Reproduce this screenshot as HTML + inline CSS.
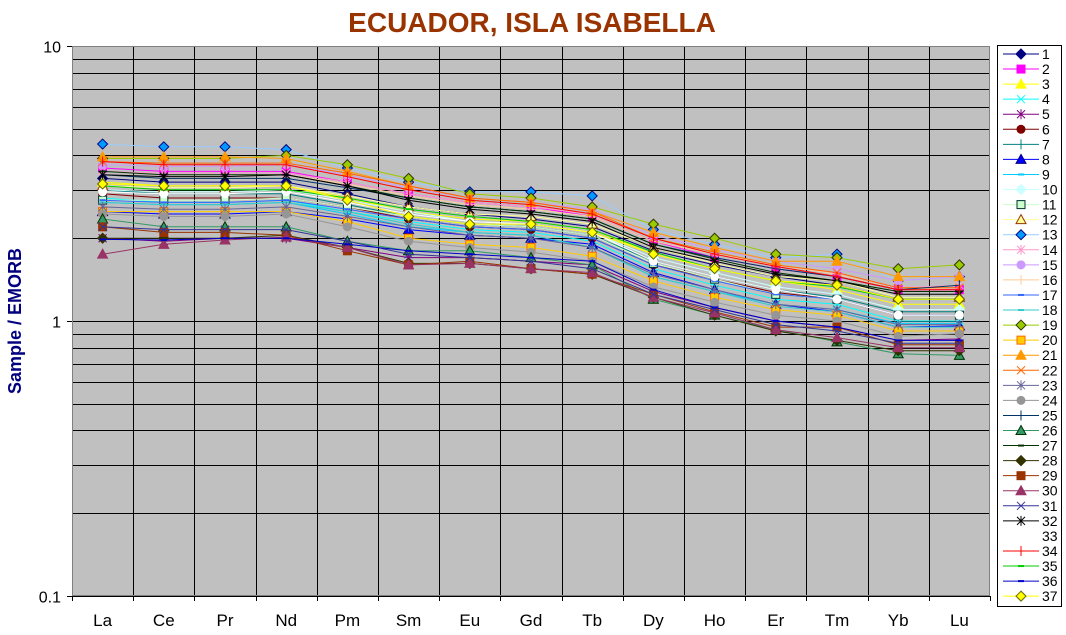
<!DOCTYPE html>
<html><head><meta charset="utf-8"><style>
html,body{margin:0;padding:0;background:#fff;}
svg{display:block;font-family:"Liberation Sans",Arial,sans-serif;}
</style></head><body>
<svg id="chart" width="1066" height="635" viewBox="0 0 1066 635">
<text x="532" y="32" text-anchor="middle" font-size="28" font-weight="bold" fill="#993300">ECUADOR, ISLA ISABELLA</text>
<text transform="translate(21,321) rotate(-90)" text-anchor="middle" font-size="18" font-weight="bold" fill="#000080">Sample / EMORB</text>
<g id="plot"></g>
<g id="legend"></g>
</svg>
<script>
const categories=["La","Ce","Pr","Nd","Pm","Sm","Eu","Gd","Tb","Dy","Ho","Er","Tm","Yb","Lu"];
const yTicks=[0.1,1,10];
const yTickLabels=["0.1","1","10"];
const s1=[3.3,3.2,3.2,3.2,2.9,2.6,2.45,2.35,2.2,1.8,1.6,1.45,1.35,1.2,1.2];
const s2=[3.6,3.5,3.5,3.5,3.2,2.9,2.7,2.6,2.4,1.95,1.7,1.55,1.45,1.3,1.3];
const s3=[3.2,3.1,3.1,3.1,2.8,2.5,2.35,2.3,2.15,1.75,1.55,1.4,1.3,1.15,1.15];
const s4=[2.8,2.7,2.7,2.75,2.5,2.3,2.15,2.1,1.95,1.55,1.35,1.2,1.15,1.0,1.0];
const s5=[2.0,1.95,2.0,2.0,1.85,1.7,1.7,1.65,1.6,1.28,1.12,1.0,0.95,0.85,0.86];
const s6=[2.9,2.8,2.8,2.8,2.6,2.35,2.2,2.15,2.0,1.6,1.42,1.27,1.2,1.05,1.05];
const s7=[3.0,2.9,2.9,2.9,2.65,2.4,2.25,2.2,2.05,1.65,1.45,1.3,1.22,1.08,1.08];
const s8=[2.5,2.45,2.45,2.5,2.35,2.15,2.05,2.0,1.9,1.5,1.3,1.15,1.08,0.95,0.96];
const s9=[2.7,2.65,2.65,2.7,2.45,2.2,2.1,2.05,1.85,1.45,1.28,1.15,1.1,0.98,0.98];
const s10=[3.0,2.95,2.95,3.0,2.75,2.5,2.3,2.25,2.1,1.7,1.5,1.33,1.25,1.1,1.1];
const s11=[2.75,2.75,2.75,2.8,2.6,2.4,2.25,2.2,2.05,1.62,1.42,1.25,1.2,1.05,1.05];
const s12=[3.1,3.05,3.05,3.1,2.85,2.6,2.45,2.4,2.25,1.85,1.62,1.45,1.4,1.22,1.22];
const s13=[4.4,4.3,4.3,4.2,3.6,3.2,2.95,2.95,2.85,2.15,1.9,1.7,1.75,1.4,1.45];
const s14=[3.5,3.45,3.45,3.45,3.2,2.9,2.7,2.6,2.45,2.0,1.75,1.6,1.5,1.32,1.35];
const s15=[3.7,3.65,3.65,3.7,3.4,3.05,2.8,2.7,2.55,2.05,1.82,1.65,1.55,1.4,1.45];
const s16=[3.4,3.35,3.35,3.4,3.15,2.85,2.65,2.55,2.4,1.95,1.75,1.6,1.48,1.3,1.32];
const s17=[2.75,2.7,2.7,2.75,2.55,2.35,2.2,2.15,2.0,1.6,1.4,1.25,1.2,1.05,1.05];
const s18=[2.7,2.65,2.65,2.7,2.5,2.25,2.1,2.05,1.85,1.45,1.28,1.13,1.08,0.95,0.95];
const s19=[3.9,3.9,3.9,4.0,3.7,3.3,2.9,2.8,2.6,2.25,2.0,1.75,1.7,1.55,1.6];
const s20=[2.5,2.5,2.5,2.5,2.3,2.0,1.9,1.85,1.72,1.4,1.22,1.1,1.05,0.92,0.92];
const s21=[3.95,3.95,3.95,3.9,3.5,3.1,2.8,2.7,2.5,2.1,1.85,1.65,1.65,1.45,1.45];
const s22=[3.8,3.75,3.75,3.75,3.45,3.1,2.8,2.7,2.5,2.0,1.78,1.6,1.5,1.32,1.32];
const s23=[2.6,2.55,2.55,2.6,2.4,2.2,2.05,2.0,1.85,1.48,1.3,1.15,1.1,0.97,0.97];
const s24=[2.45,2.4,2.4,2.45,2.2,1.95,1.85,1.78,1.65,1.33,1.17,1.05,1.0,0.88,0.9];
const s25=[3.4,3.3,3.3,3.3,3.05,2.8,2.6,2.5,2.35,1.9,1.7,1.55,1.45,1.3,1.35];
const s26=[2.35,2.2,2.2,2.2,1.95,1.8,1.8,1.7,1.6,1.2,1.05,0.93,0.84,0.76,0.75];
const s27=[3.5,3.4,3.4,3.4,3.1,2.8,2.6,2.5,2.35,1.9,1.68,1.5,1.4,1.28,1.28];
const s28=[2.0,2.0,2.0,2.05,1.85,1.62,1.62,1.55,1.48,1.22,1.05,0.92,0.85,0.78,0.78];
const s29=[2.2,2.1,2.1,2.05,1.8,1.6,1.65,1.55,1.48,1.25,1.08,0.95,0.95,0.82,0.82];
const s30=[1.75,1.9,1.97,2.02,1.85,1.6,1.62,1.55,1.5,1.22,1.07,0.93,0.87,0.8,0.8];
const s31=[2.2,2.15,2.15,2.15,1.95,1.75,1.7,1.65,1.55,1.25,1.1,0.97,0.92,0.83,0.83];
const s32=[3.4,3.35,3.35,3.4,3.1,2.75,2.55,2.45,2.3,1.85,1.65,1.48,1.4,1.25,1.25];
const s33=[2.95,2.9,2.9,2.95,2.7,2.45,2.3,2.25,2.1,1.65,1.45,1.3,1.2,1.05,1.05];
const s34=[3.8,3.7,3.7,3.7,3.35,3.0,2.75,2.65,2.45,2.0,1.75,1.58,1.45,1.3,1.3];
const s35=[3.1,3.0,3.0,3.0,2.8,2.55,2.4,2.3,2.15,1.78,1.55,1.4,1.33,1.2,1.2];
const s36=[1.98,1.97,2.0,2.0,1.9,1.8,1.75,1.7,1.65,1.3,1.12,1.0,0.95,0.85,0.85];
const s37=[3.15,3.1,3.1,3.1,2.75,2.4,2.25,2.25,2.1,1.75,1.55,1.4,1.35,1.2,1.2];
const seriesValues=[s1,s2,s3,s4,s5,s6,s7,s8,s9,s10,s11,s12,s13,s14,s15,s16,s17,s18,s19,s20,s21,s22,s23,s24,s25,s26,s27,s28,s29,s30,s31,s32,s33,s34,s35,s36,s37];
const seriesNames=["1","2","3","4","5","6","7","8","9","10","11","12","13","14","15","16","17","18","19","20","21","22","23","24","25","26","27","28","29","30","31","32","33","34","35","36","37"];
// style: [line color, marker, fill, stroke]
const styles=[
["#000080","diamond","#000080","#000080"],["#ff00ff","square","#ff00ff","#ff00ff"],["#ffff00","triangle","#ffff00","#ffff00"],
["#00ffff","x","none","#00ffff"],["#800080","star","none","#800080"],["#800000","circle","#800000","#800000"],
["#008080","plus","none","#008080"],["#0000ff","triangle","#0000ff","#000080"],["#00ccff","dash","none","#00ccff"],
["#ccffff","diamond","#ccffff","#ccffff"],["#ccffcc","square","#ccffcc","#003333"],["#ffff99","triangle","#ffff99","#993300"],
["#99ccff","diamond","#0099ff","#000080"],["#ff99cc","star","none","#ff99cc"],["#cc99ff","circle","#cc99ff","#cc99ff"],
["#ffcc99","plus","none","#ffcc99"],["#3366ff","dash","none","#3366ff"],["#33cccc","dash","none","#33cccc"],
["#99cc00","diamond","#99cc00","#333300"],["#ffcc00","square","#ffcc00","#ff6600"],["#ff9900","triangle","#ff9900","#ff9900"],
["#ff6600","x","none","#ff6600"],["#666699","star","none","#666699"],["#969696","circle","#969696","#969696"],
["#003366","plus","none","#003366"],["#339966","triangle","#339966","#003300"],["#003300","dash","none","#003300"],
["#333300","diamond","#333300","#333300"],["#993300","square","#993300","#993300"],["#993366","triangle","#993366","#993366"],
["#333399","x","none","#333399"],["#000000","star","none","#000000"],["#ffffff","circle","#ffffff","#ffffff"],
["#ff0000","plus","none","#ff0000"],["#00cc00","dash","none","#00cc00"],["#0000cc","dash","none","#0000cc"],
["#ffff00","diamond","#ffff00","#666600"]];
const NS="http://www.w3.org/2000/svg";
const L=72,R=990,T=46,B=596;
const step=(R-L)/categories.length;
function xPos(i){return L+step*(i+0.5);}
function yPos(v){return B-(B-T)/2*(Math.log10(v)+1);}
function mk(tag,attrs,parent){const e=document.createElementNS(NS,tag);for(const k in attrs)e.setAttribute(k,attrs[k]);parent.appendChild(e);return e;}
const plot=document.getElementById('plot');
mk('rect',{x:L,y:T,width:R-L,height:B-T,fill:'#c0c0c0'},plot);
// horizontal grid
for(let d=-1;d<=0;d++){for(let m=1;m<=10;m++){const v=m*Math.pow(10,d);const y=Math.round(yPos(v))+0.5;
 const g=mk('line',{x1:L,x2:R,y1:y,y2:y,stroke:'#000','stroke-width':1},plot);
 
 }}
for(let i=1;i<categories.length;i++){const x=Math.round(L+step*i)+0.5;
 const g=mk('line',{x1:x,x2:x,y1:T,y2:B,stroke:'#000','stroke-width':1},plot);
 
 }
mk('rect',{x:L+0.5,y:T+0.5,width:R-L-1,height:B-T-1,fill:'none',stroke:'#808080'},plot);
// axes ticks/labels
yTicks.forEach((v,i)=>{const y=Math.round(yPos(v))+0.5;
 mk('line',{x1:L-5,x2:L,y1:y,y2:y,stroke:'#000'},plot);
 const t=mk('text',{x:L-11,y:y+6,'text-anchor':'end','font-size':16,fill:'#000'},plot);t.textContent=yTickLabels[i];
 
 });
for(let i=0;i<=categories.length;i++){const x=Math.round(L+step*i)+0.5;mk('line',{x1:x,x2:x,y1:B,y2:B+5,stroke:'#000'},plot);}
categories.forEach((c,i)=>{const t=mk('text',{x:xPos(i),y:626,'text-anchor':'middle','font-size':17,fill:'#000'},plot);t.textContent=c;
 
 });
function marker(type,x,y,fill,stroke,parent){
 const s=4;let e;
 if(type==='diamond')e=mk('polygon',{points:`${x},${y-s-1} ${x+s+1},${y} ${x},${y+s+1} ${x-s-1},${y}`,fill,stroke},parent);
 else if(type==='square')e=mk('rect',{x:x-s,y:y-s,width:2*s,height:2*s,fill,stroke},parent);
 else if(type==='triangle')e=mk('polygon',{points:`${x},${y-s-1} ${x+s+1},${y+s} ${x-s-1},${y+s}`,fill,stroke},parent);
 else if(type==='circle')e=mk('circle',{cx:x,cy:y,r:s,fill,stroke},parent);
 else if(type==='x')e=mk('path',{d:`M${x-s},${y-s}L${x+s},${y+s}M${x-s},${y+s}L${x+s},${y-s}`,stroke,fill:'none'},parent);
 else if(type==='star')e=mk('path',{d:`M${x-s},${y-s}L${x+s},${y+s}M${x-s},${y+s}L${x+s},${y-s}M${x},${y-s-1}L${x},${y+s+1}`,stroke,fill:'none'},parent);
 else if(type==='plus')e=mk('path',{d:`M${x},${y-s-1}L${x},${y+s+1}`,stroke,fill:'none'},parent);
 else e=mk('path',{d:`M${x-3},${y}L${x+3},${y}`,stroke,'stroke-width':2,fill:'none'},parent);
 return e;}
seriesValues.forEach((vals,si)=>{
 const st=styles[si];
 const g=mk('g',{},plot);
 
 
 const pts=vals.map((v,i)=>xPos(i).toFixed(1)+','+yPos(v).toFixed(1)).join(' ');
 const pl=mk('polyline',{points:pts,fill:'none',stroke:st[0],'stroke-width':1},g);
 
 
 vals.forEach((v,i)=>{const m=marker(st[1],xPos(i),yPos(v),st[2],st[3],g);
  
  });
});
// legend
const lg=document.getElementById('legend');
mk('rect',{x:997.5,y:45.5,width:64,height:561,fill:'#fff',stroke:'#000'},lg);
seriesNames.forEach((n,i)=>{const y=54+i*15.06;const st=styles[i];
 const e=mk('g',{},lg);
 
 
 mk('line',{x1:1003,x2:1039,y1:y,y2:y,stroke:st[0]},e);
 marker(st[1],1021,y,st[2],st[3],e);
 const t=mk('text',{x:1042,y:y+5,'font-size':14,fill:'#000'},e);t.textContent=n;});
</script>
</body></html>
